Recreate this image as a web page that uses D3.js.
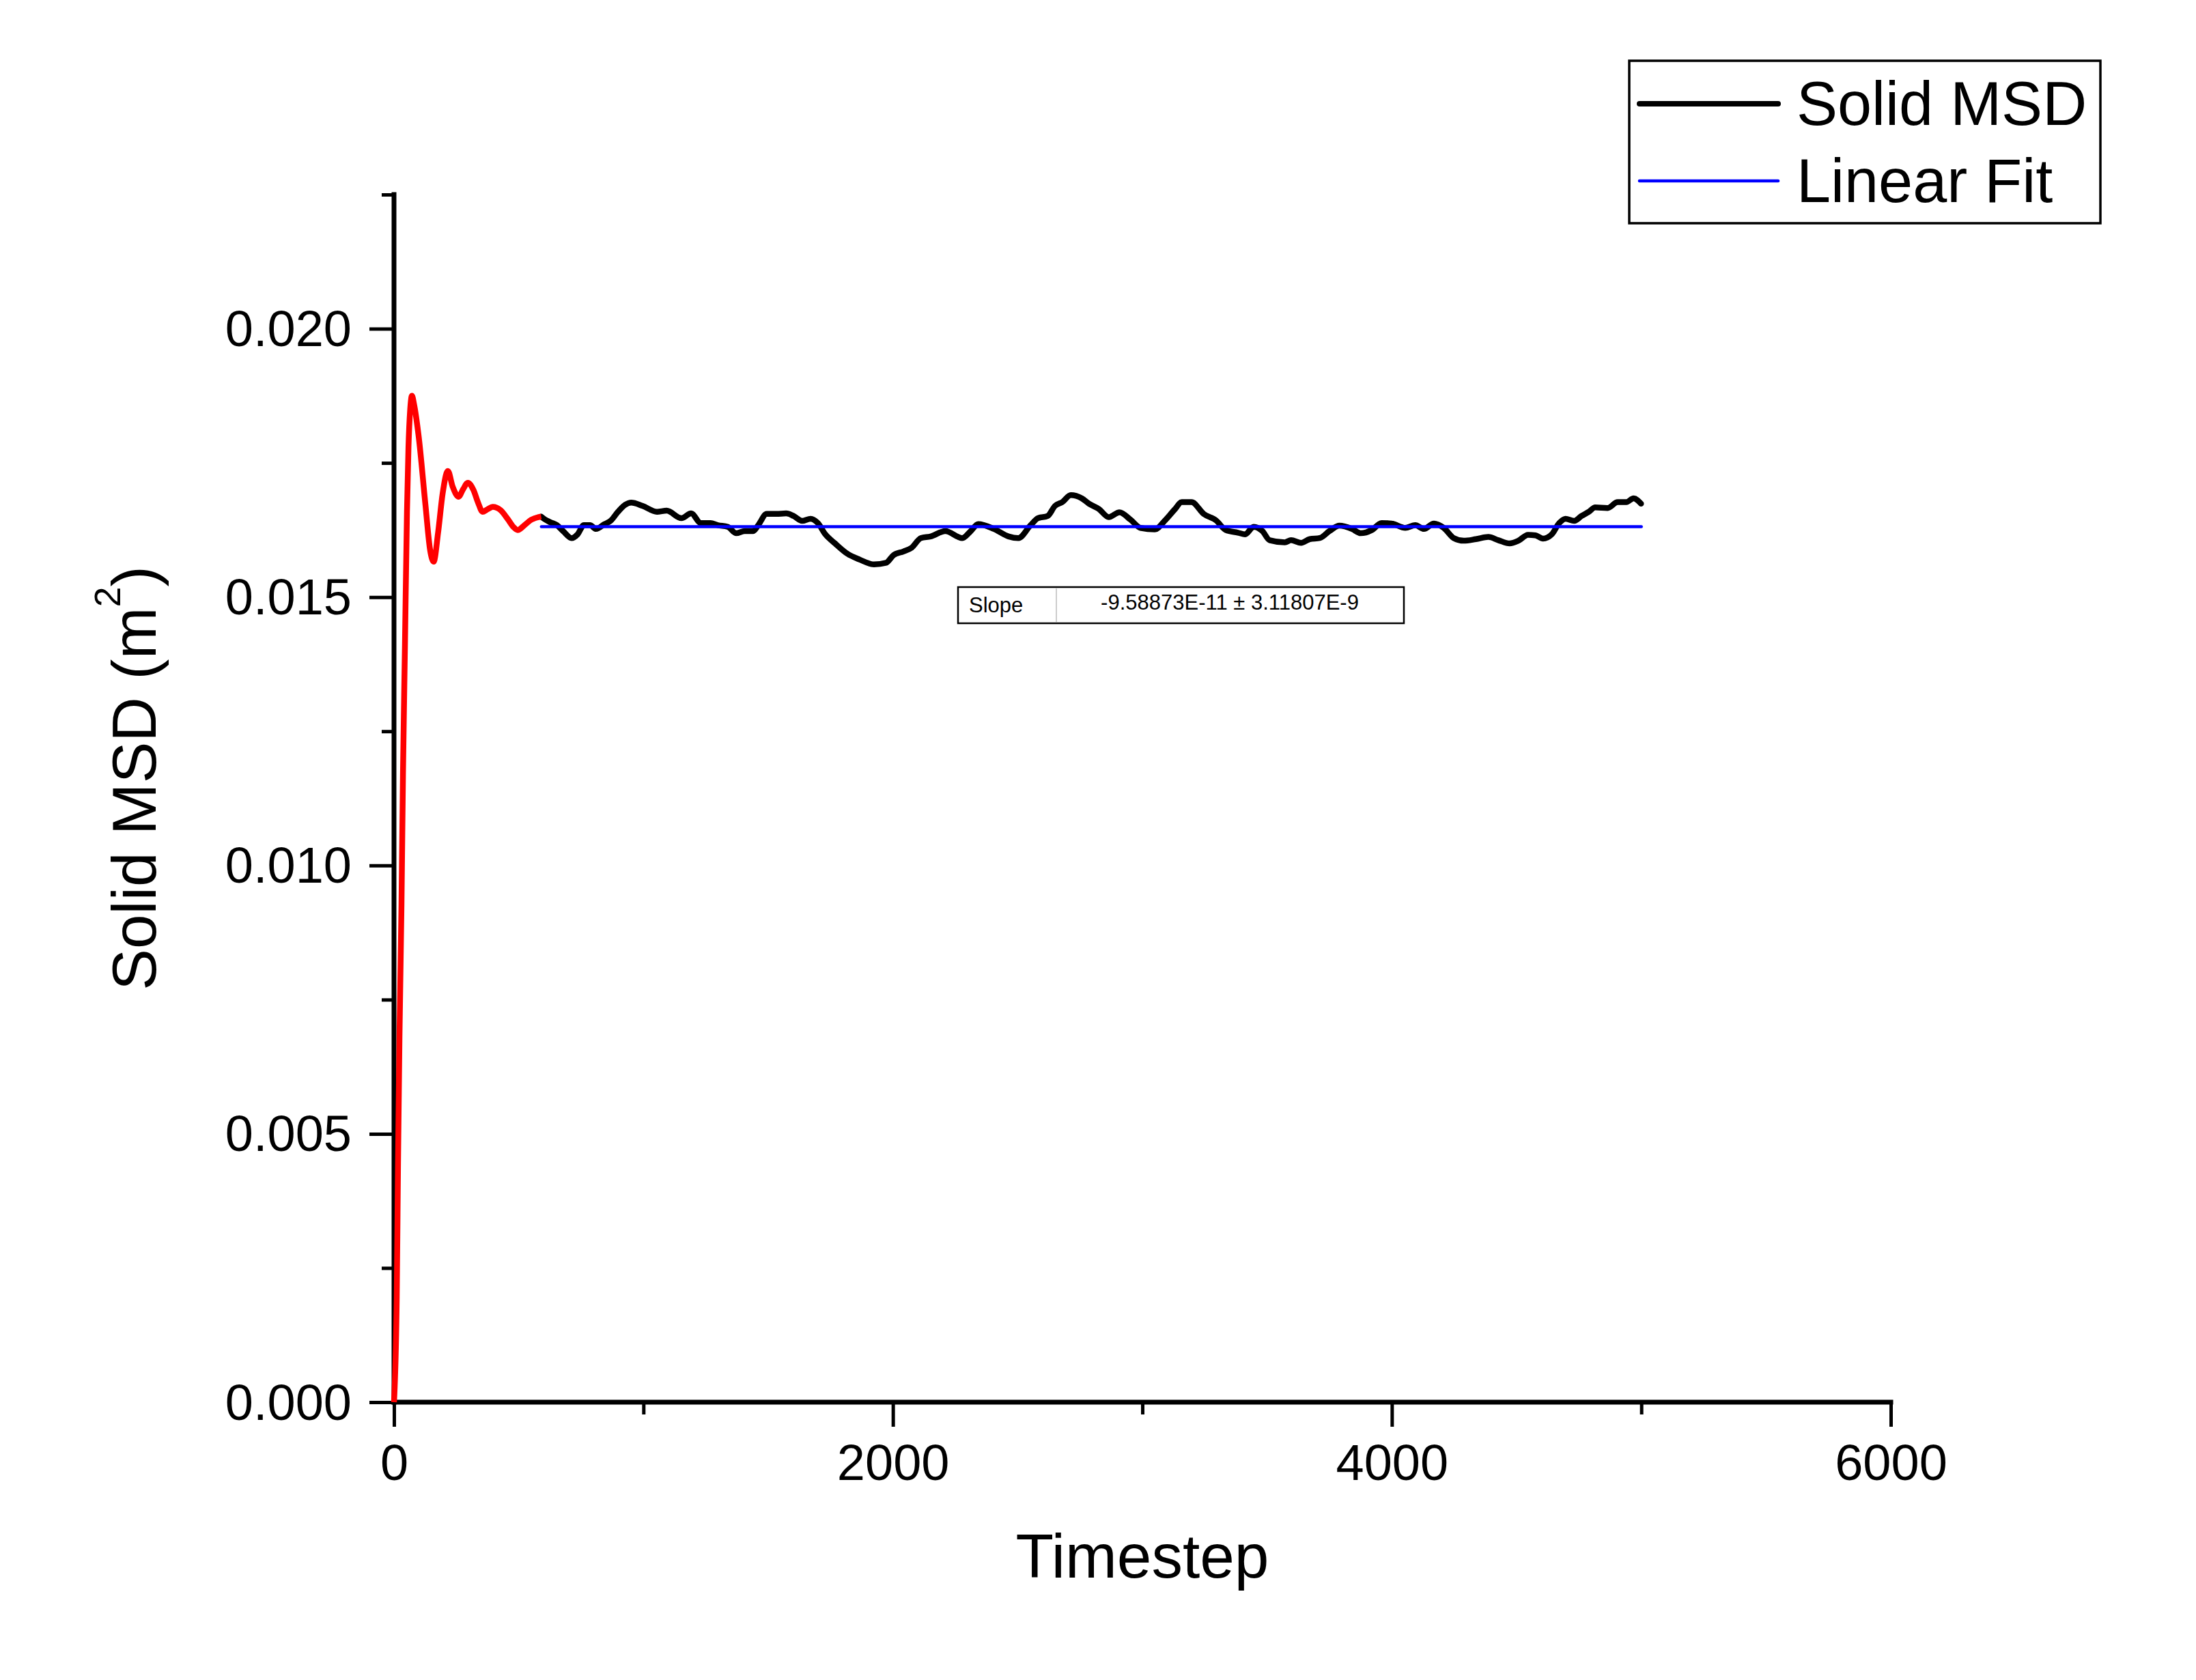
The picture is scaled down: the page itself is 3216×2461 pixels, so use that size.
<!DOCTYPE html>
<html>
<head>
<meta charset="utf-8">
<script src="https://cdn.jsdelivr.net/npm/d3@7"></script>
<style>
  html, body { margin: 0; padding: 0; background: #fff; }
  svg { display: block; font-family: "Liberation Sans", Arial, sans-serif; }
</style>
</head>
<body>
<svg id="chart" width="3216" height="2461"></svg>
<script>
// ---- Data ----
const xTicksMajor = [0, 2000, 4000, 6000];
const xTicksMinor = [1000, 3000, 5000];
const yTicksMajor = [0, 0.005, 0.010, 0.015, 0.020];
const yTicksMinor = [0.0025, 0.0075, 0.0125, 0.0175, 0.0225];

// Equilibration part (red)
const redT = [0, 11, 16, 22, 30, 36, 44, 52, 58, 65, 72, 80, 99, 126, 145, 159, 177, 195, 216, 235, 259, 277, 296, 318, 337, 355, 373, 396, 427, 455, 478, 496, 523, 550, 578, 590];
const redV = [0, 0.00196, 0.0044, 0.00682, 0.00926, 0.0117, 0.01413, 0.01658, 0.01779, 0.0185, 0.01875, 0.0186, 0.01799, 0.01672, 0.01587, 0.01566, 0.01621, 0.01693, 0.01735, 0.01706, 0.01687, 0.01701, 0.01713, 0.017, 0.01676, 0.01659, 0.01663, 0.01668, 0.01662, 0.01646, 0.01631, 0.01625, 0.01634, 0.01644, 0.01649, 0.0165];

// Solid MSD (black)
const blackT = [590, 601, 624, 653, 678, 712, 736, 761, 786, 810, 844, 868, 898, 927, 951, 996, 1054, 1093, 1152, 1191, 1230, 1269, 1298, 1338, 1372, 1406, 1440, 1460, 1494, 1533, 1572, 1602, 1636, 1670, 1699, 1729, 1768, 1817, 1866, 1924, 1973, 2002, 2042, 2075, 2112, 2151, 2210, 2278, 2312, 2342, 2405, 2464, 2503, 2552, 2581, 2620, 2650, 2679, 2713, 2757, 2786, 2826, 2865, 2908, 2953, 2992, 3050, 3089, 3129, 3158, 3197, 3246, 3295, 3334, 3383, 3412, 3446, 3481, 3510, 3571, 3596, 3636, 3671, 3711, 3750, 3790, 3840, 3875, 3920, 3959, 3999, 4054, 4094, 4129, 4168, 4208, 4248, 4288, 4337, 4387, 4427, 4472, 4507, 4546, 4576, 4606, 4641, 4671, 4696, 4731, 4760, 4790, 4815, 4865, 4905, 4940, 4969, 4999];
const blackV = [0.0165, 0.01646, 0.0164, 0.01634, 0.01623, 0.0161, 0.01617, 0.01634, 0.01634, 0.01627, 0.01636, 0.01642, 0.01659, 0.01672, 0.01676, 0.0167, 0.01659, 0.01661, 0.01647, 0.01656, 0.01638, 0.01638, 0.01634, 0.01631, 0.01619, 0.01623, 0.01623, 0.01634, 0.01655, 0.01655, 0.01656, 0.01651, 0.01642, 0.01646, 0.01638, 0.01617, 0.016, 0.01581, 0.0157, 0.01561, 0.01564, 0.01578, 0.01585, 0.01592, 0.0161, 0.01613, 0.01623, 0.0161, 0.01623, 0.01636, 0.01627, 0.01613, 0.0161, 0.01634, 0.01647, 0.01651, 0.0167, 0.01677, 0.0169, 0.01684, 0.01674, 0.01664, 0.01649, 0.01658, 0.01644, 0.01629, 0.01626, 0.01642, 0.01663, 0.01677, 0.01677, 0.01655, 0.01643, 0.01625, 0.0162, 0.01617, 0.01631, 0.01623, 0.01606, 0.01602, 0.01606, 0.01601, 0.01608, 0.0161, 0.01623, 0.01633, 0.01627, 0.01619, 0.01625, 0.01638, 0.01637, 0.01629, 0.01634, 0.01627, 0.01637, 0.01629, 0.0161, 0.01605, 0.01608, 0.01612, 0.01606, 0.016, 0.01605, 0.01616, 0.01615, 0.01609, 0.01617, 0.01638, 0.01646, 0.01642, 0.01651, 0.01659, 0.01667, 0.01666, 0.01677, 0.01677, 0.01684, 0.01674];

// Linear fit (blue)
const fitT = [591, 5000];
const fitV = [0.016312, 0.016312];

const legendLabels = ["Solid MSD", "Linear Fit"];
const slopeLabel = "Slope";
const slopeText = "-9.58873E-11 \u00B1 3.11807E-9";

// ---- Layout ----
const svg = d3.select("#chart");
svg.append("rect").attr("width", 3216).attr("height", 2461).attr("fill", "#fff");

const x = d3.scaleLinear().domain([0, 6000]).range([577, 2769]);
const y = d3.scaleLinear().domain([0, 0.0225]).range([2054, 285]);

// Axes
const axW = 7, tickW = 5;
function styleAxis(g) {
  g.select(".domain").remove();
  g.selectAll(".tick line").attr("stroke", "#000").attr("stroke-width", tickW);
  g.selectAll(".tick text").attr("fill", "#000").attr("font-family", "'Liberation Sans', Arial, sans-serif");
}

// X major
const gx = svg.append("g").attr("transform", `translate(0,${y(0)})`)
  .call(d3.axisBottom(x).tickValues(xTicksMajor).tickSize(36).tickSizeOuter(0).tickPadding(0).tickFormat(d3.format("d")));
styleAxis(gx);
gx.selectAll(".tick text").attr("font-size", 74).attr("y", 114).attr("dy", 0);
// X minor
const gxm = svg.append("g").attr("transform", `translate(0,${y(0)})`)
  .call(d3.axisBottom(x).tickValues(xTicksMinor).tickSize(18).tickSizeOuter(0).tickFormat(""));
styleAxis(gxm);

// Y major
const gy = svg.append("g").attr("transform", `translate(${x(0)},0)`)
  .call(d3.axisLeft(y).tickValues(yTicksMajor).tickSize(36).tickSizeOuter(0).tickPadding(0).tickFormat(d3.format(".3f")));
styleAxis(gy);
gy.selectAll(".tick text").attr("font-size", 74).attr("x", -62).attr("dy", 0).attr("y", 25).attr("text-anchor", "end");
// Y minor
const gym = svg.append("g").attr("transform", `translate(${x(0)},0)`)
  .call(d3.axisLeft(y).tickValues(yTicksMinor).tickSize(18).tickSizeOuter(0).tickFormat(""));
styleAxis(gym);

// Axis lines
svg.append("line").attr("x1", x(0)).attr("x2", x(0)).attr("y1", y(0.0225)).attr("y2", y(0))
  .attr("stroke", "#000").attr("stroke-width", axW).attr("stroke-linecap", "square");
svg.append("line").attr("x1", x(0)).attr("x2", x(6000)).attr("y1", y(0)).attr("y2", y(0))
  .attr("stroke", "#000").attr("stroke-width", axW).attr("stroke-linecap", "square");

// Axis titles
svg.append("text").attr("x", x(3000)).attr("y", 2311).attr("text-anchor", "middle")
  .attr("font-size", 91).attr("fill", "#000").text("Timestep");

const yt = svg.append("text").attr("transform", "translate(228,1140) rotate(-90)")
  .attr("text-anchor", "middle").attr("font-size", 91).attr("fill", "#000");
yt.append("tspan").text("Solid MSD (m");
yt.append("tspan").attr("font-size", 54).attr("dy", -52).text("2");
yt.append("tspan").attr("dy", 52).text(")");

// Lines
const line = d3.line().x(d => x(d[0])).y(d => y(d[1])).curve(d3.curveMonotoneX);
const redData = redT.map((t, i) => [t, redV[i]]);
const blackData = blackT.map((t, i) => [t, blackV[i]]);
const fitData = fitT.map((t, i) => [t, fitV[i]]);

svg.append("path").datum(blackData).attr("d", line).attr("fill", "none")
  .attr("stroke", "#000").attr("stroke-width", 8.5).attr("stroke-linejoin", "round").attr("stroke-linecap", "round");
svg.append("path").datum(redData).attr("d", line).attr("fill", "none")
  .attr("stroke", "#ff0000").attr("stroke-width", 8.5).attr("stroke-linejoin", "round").attr("stroke-linecap", "butt");
svg.append("path").datum(fitData).attr("d", d3.line().x(d => x(d[0])).y(d => y(d[1]))).attr("fill", "none")
  .attr("stroke", "#0000ff").attr("stroke-width", 4.7).attr("stroke-linecap", "round");

// Slope table
const tb = svg.append("g");
tb.append("rect").attr("x", 1403).attr("y", 860).attr("width", 653).attr("height", 53)
  .attr("fill", "#fff").attr("stroke", "#000").attr("stroke-width", 2.5);
tb.append("line").attr("x1", 1547).attr("x2", 1547).attr("y1", 861).attr("y2", 912)
  .attr("stroke", "#bbb").attr("stroke-width", 1.5);
tb.append("text").attr("x", 1419).attr("y", 897).attr("font-size", 31).attr("fill", "#000").text(slopeLabel);
tb.append("text").attr("x", 1801).attr("y", 893).attr("font-size", 31).attr("text-anchor", "middle").attr("fill", "#000").text(slopeText);

// Legend
const lg = svg.append("g");
lg.append("rect").attr("x", 2386).attr("y", 89).attr("width", 690).attr("height", 238)
  .attr("fill", "#fff").attr("stroke", "#000").attr("stroke-width", 3.5);
const legendStyles = [
  { color: "#000", w: 8, ly: 152, ty: 183 },
  { color: "#0000ff", w: 4.7, ly: 265, ty: 296 }
];
legendLabels.forEach((lab, i) => {
  const s = legendStyles[i];
  lg.append("line").attr("x1", 2401).attr("x2", 2604).attr("y1", s.ly).attr("y2", s.ly)
    .attr("stroke", s.color).attr("stroke-width", s.w).attr("stroke-linecap", "round");
  lg.append("text").attr("x", 2631).attr("y", s.ty).attr("font-size", 90).attr("fill", "#000").text(lab);
});
</script>
</body>
</html>
